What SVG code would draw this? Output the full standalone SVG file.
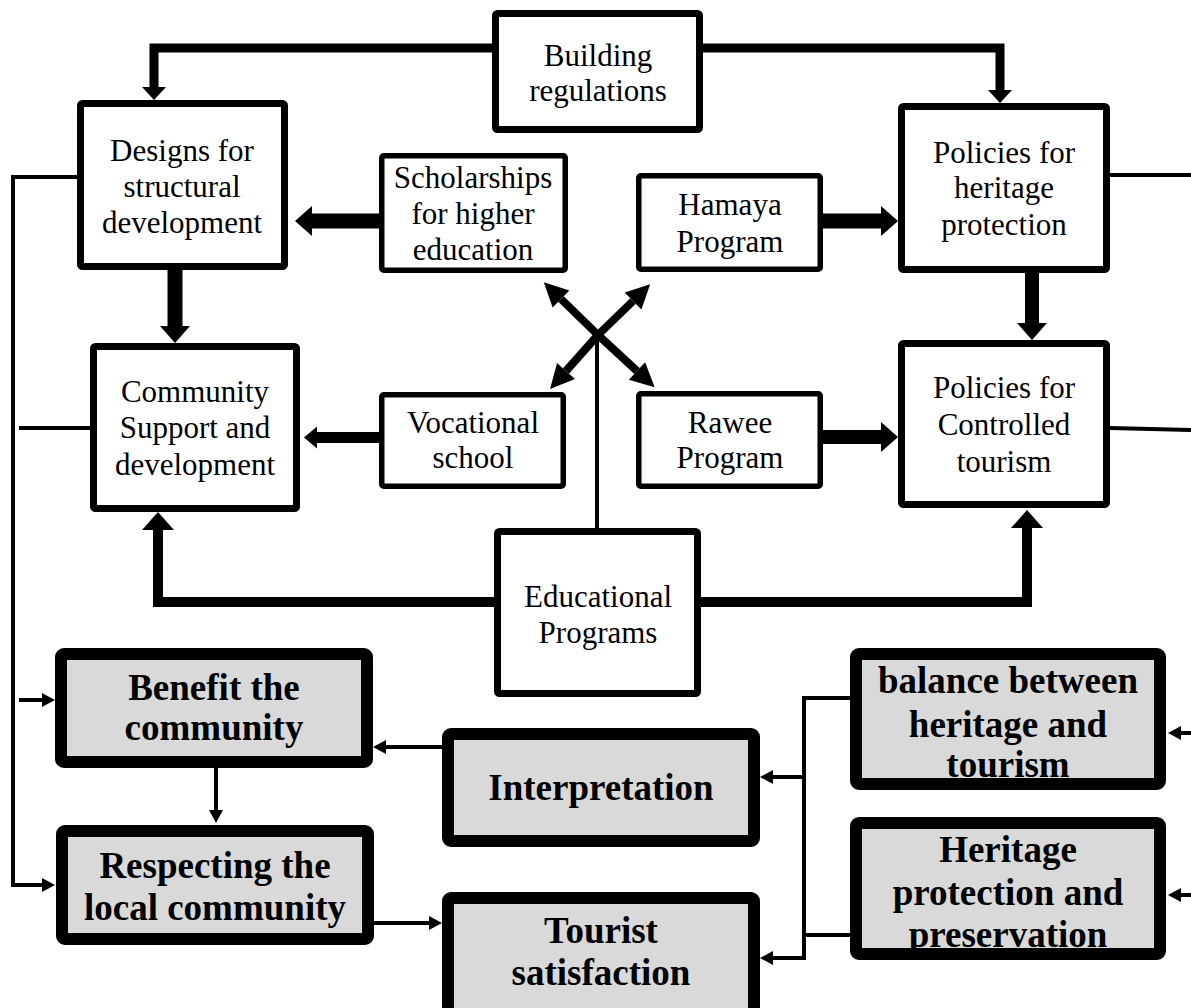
<svg xmlns="http://www.w3.org/2000/svg" width="1191" height="1008" viewBox="0 0 1191 1008">
  <style>
    .bg { fill: #ffffff; }
    .box { fill: #ffffff; stroke: #000000; stroke-width: 7; }
    .box.small { stroke-width: 5.5; }
    .gfill { fill: #d9d9d9; }
    .gframe { fill: none; stroke: #000000; stroke-width: 12; }
    .t { font-family: "Liberation Serif", "Times New Roman", serif; font-size: 31px; fill: #000; text-anchor: middle; }
    .tb { font-family: "Liberation Serif", "Times New Roman", serif; font-size: 37px; font-weight: bold; fill: #000; text-anchor: middle; }
    .c { fill: none; stroke: #000; stroke-linejoin: miter; stroke-linecap: butt; }
    .w4 { stroke-width: 4; }
    .w8 { stroke-width: 8; }
    .w9 { stroke-width: 9; }
    .w10 { stroke-width: 10; }
    .w11 { stroke-width: 11; }
    .w14 { stroke-width: 14; }
    .w15 { stroke-width: 15; }
  </style>
  <defs>
    <!-- arrowheads: shaft ends at the head base, head extends forward -->
    <marker id="h-big" markerUnits="userSpaceOnUse" markerWidth="17" markerHeight="30" refX="0" refY="15" orient="auto" overflow="visible">
      <path d="M0,0 L17,15 L0,30 Z" fill="#000"/>
    </marker>
    <marker id="h-top" markerUnits="userSpaceOnUse" markerWidth="13" markerHeight="24" refX="0" refY="12" orient="auto" overflow="visible">
      <path d="M0,0 L13,12 L0,24 Z" fill="#000"/>
    </marker>
    <marker id="h-edu" markerUnits="userSpaceOnUse" markerWidth="18" markerHeight="32" refX="0" refY="16" orient="auto" overflow="visible">
      <path d="M0,0 L18,16 L0,32 Z" fill="#000"/>
    </marker>
    <marker id="h-voc" markerUnits="userSpaceOnUse" markerWidth="13" markerHeight="22" refX="0" refY="11" orient="auto" overflow="visible">
      <path d="M0,0 L13,11 L0,22 Z" fill="#000"/>
    </marker>
    <marker id="h-x" markerUnits="userSpaceOnUse" markerWidth="24" markerHeight="24" refX="0" refY="12" orient="auto" overflow="visible">
      <path d="M0,0 L24,12 L0,24 Z" fill="#000"/>
    </marker>
    <marker id="h-thin" markerUnits="userSpaceOnUse" markerWidth="13" markerHeight="14" refX="0" refY="7" orient="auto" overflow="visible">
      <path d="M0,0 L13,7 L0,14 Z" fill="#000"/>
    </marker>
  </defs>

  <rect class="bg" x="0" y="0" width="1191" height="1008"/>

  <!-- upper block -->
  <g id="building-regulations">
    <rect class="box" x="495.5" y="13.5" width="204" height="116" rx="2"/>
    <text class="t" x="598" y="66">Building</text>
    <text class="t" x="598" y="101">regulations</text>
  </g>
  <g id="designs-structural">
    <rect class="box" x="80.5" y="103.5" width="204" height="163" rx="2"/>
    <text class="t" x="182" y="161">Designs for</text>
    <text class="t" x="182" y="197">structural</text>
    <text class="t" x="182" y="233">development</text>
  </g>
  <g id="scholarships">
    <rect class="box small" x="381.75" y="155.75" width="183.5" height="114.5" rx="2"/>
    <text class="t" x="473" y="188">Scholarships</text>
    <text class="t" x="473" y="224">for higher</text>
    <text class="t" x="473" y="260">education</text>
  </g>
  <g id="hamaya-program">
    <rect class="box small" x="638.75" y="175.75" width="181.5" height="93.5" rx="2"/>
    <text class="t" x="730" y="215">Hamaya</text>
    <text class="t" x="730" y="252">Program</text>
  </g>
  <g id="policies-heritage">
    <rect class="box" x="901.5" y="106.5" width="205" height="163" rx="2"/>
    <text class="t" x="1004" y="163">Policies for</text>
    <text class="t" x="1004" y="198">heritage</text>
    <text class="t" x="1004" y="235">protection</text>
  </g>
  <g id="community-support">
    <rect class="box" x="93.5" y="346.5" width="203" height="162" rx="2"/>
    <text class="t" x="195" y="402">Community</text>
    <text class="t" x="195" y="438">Support and</text>
    <text class="t" x="195" y="475">development</text>
  </g>
  <g id="vocational-school">
    <rect class="box small" x="381.75" y="394.75" width="181.5" height="91.5" rx="2"/>
    <text class="t" x="473" y="433">Vocational</text>
    <text class="t" x="473" y="468">school</text>
  </g>
  <g id="rawee-program">
    <rect class="box small" x="638.75" y="393.75" width="181.5" height="92.5" rx="2"/>
    <text class="t" x="730" y="433">Rawee</text>
    <text class="t" x="730" y="468">Program</text>
  </g>
  <g id="policies-tourism">
    <rect class="box" x="901.5" y="343.5" width="205" height="161" rx="2"/>
    <text class="t" x="1004" y="398">Policies for</text>
    <text class="t" x="1004" y="435">Controlled</text>
    <text class="t" x="1004" y="472">tourism</text>
  </g>
  <g id="educational-programs">
    <rect class="box" x="497.5" y="531.5" width="200" height="162" rx="2"/>
    <text class="t" x="598" y="607">Educational</text>
    <text class="t" x="598" y="643">Programs</text>
  </g>

  <!-- outcome block: grey boxes, frame drawn over the text -->
  <g id="benefit-community">
    <rect class="gfill" x="61" y="654" width="306" height="108"/>
    <text class="tb" x="214" y="700">Benefit the</text>
    <text class="tb" x="214" y="740">community</text>
    <rect class="gframe" x="61" y="654" width="306" height="108" rx="3"/>
  </g>
  <g id="interpretation">
    <rect class="gfill" x="448" y="734" width="306" height="107"/>
    <text class="tb" x="601" y="800">Interpretation</text>
    <rect class="gframe" x="448" y="734" width="306" height="107" rx="3"/>
  </g>
  <g id="respecting-community">
    <rect class="gfill" x="62" y="831" width="306" height="108"/>
    <text class="tb" x="215" y="878">Respecting the</text>
    <text class="tb" x="215" y="920">local community</text>
    <rect class="gframe" x="62" y="831" width="306" height="108" rx="3"/>
  </g>
  <g id="tourist-satisfaction">
    <rect class="gfill" x="448" y="898" width="306" height="130"/>
    <text class="tb" x="601" y="943">Tourist</text>
    <text class="tb" x="601" y="985">satisfaction</text>
    <rect class="gframe" x="448" y="898" width="306" height="130" rx="3"/>
  </g>
  <g id="heritage-tourism-balance">
    <rect class="gfill" x="856" y="654" width="304" height="130"/>
    <text class="tb" x="1008" y="693">balance between</text>
    <text class="tb" x="1008" y="737">heritage and</text>
    <text class="tb" x="1008" y="777">tourism</text>
    <rect class="gframe" x="856" y="654" width="304" height="130" rx="3"/>
  </g>
  <g id="heritage-preservation">
    <rect class="gfill" x="856" y="823" width="304" height="131"/>
    <text class="tb" x="1008" y="862">Heritage</text>
    <text class="tb" x="1008" y="905">protection and</text>
    <text class="tb" x="1008" y="947">preservation</text>
    <rect class="gframe" x="856" y="823" width="304" height="131" rx="3"/>
  </g>

  <g id="connectors">
    <!-- building regulations fan-out -->
    <polyline class="c w9" points="492,48 154,48 154,87" marker-end="url(#h-top)"/>
    <polyline class="c w9" points="703,48 1000,48 1000,90" marker-end="url(#h-top)"/>
    <!-- programmes into designs / policies -->
    <line class="c w15" x1="379" y1="221" x2="312" y2="221" marker-end="url(#h-big)"/>
    <line class="c w15" x1="823" y1="221" x2="881" y2="221" marker-end="url(#h-big)"/>
    <line class="c w15" x1="175" y1="270" x2="175" y2="326" marker-end="url(#h-big)"/>
    <line class="c w14" x1="1032" y1="273" x2="1032" y2="323" marker-end="url(#h-big)"/>
    <line class="c w11" x1="379" y1="437.5" x2="317" y2="437.5" marker-end="url(#h-voc)"/>
    <line class="c w14" x1="823" y1="437" x2="881" y2="437" marker-end="url(#h-big)"/>
    <!-- educational programmes -->
    <polyline class="c w10" points="494,602 158,602 158,530" marker-end="url(#h-edu)"/>
    <polyline class="c w10" points="701,602 1027,602 1027,528" marker-end="url(#h-edu)"/>
    <line class="c w4" x1="597" y1="528" x2="597" y2="335"/>
    <!-- four-way cross -->
    <line class="c w8" x1="598" y1="335" x2="561" y2="299" marker-end="url(#h-x)"/>
    <line class="c w8" x1="598" y1="335" x2="633" y2="301" marker-end="url(#h-x)"/>
    <line class="c w8" x1="598" y1="335" x2="566" y2="371" marker-end="url(#h-x)"/>
    <line class="c w8" x1="598" y1="335" x2="637" y2="371" marker-end="url(#h-x)"/>
    <!-- left rail -->
    <polyline class="c w4" points="77,177 13,177 13,885 42,885" marker-end="url(#h-thin)"/>
    <line class="c w4" x1="19" y1="700" x2="42" y2="700" marker-end="url(#h-thin)"/>
    <line class="c w4" x1="19" y1="428" x2="90" y2="428"/>
    <!-- right edge -->
    <line class="c w4" x1="1110" y1="175" x2="1191" y2="175"/>
    <line class="c w4" x1="1110" y1="428" x2="1191" y2="430"/>
    <line class="c w4" x1="1191" y1="733" x2="1181" y2="733" marker-end="url(#h-thin)"/>
    <line class="c w4" x1="1191" y1="895" x2="1181" y2="895" marker-end="url(#h-thin)"/>
    <!-- outcome links -->
    <line class="c w4" x1="442" y1="747" x2="386" y2="747" marker-end="url(#h-thin)"/>
    <line class="c w4" x1="216" y1="768" x2="216" y2="810" marker-end="url(#h-thin)"/>
    <line class="c w4" x1="374" y1="923" x2="429" y2="923" marker-end="url(#h-thin)"/>
    <polyline class="c w4" points="850,698 804,698 804,958 773,958" marker-end="url(#h-thin)"/>
    <line class="c w4" x1="804" y1="777" x2="773" y2="777" marker-end="url(#h-thin)"/>
    <line class="c w4" x1="850" y1="935" x2="804" y2="935"/>
  </g>
</svg>
